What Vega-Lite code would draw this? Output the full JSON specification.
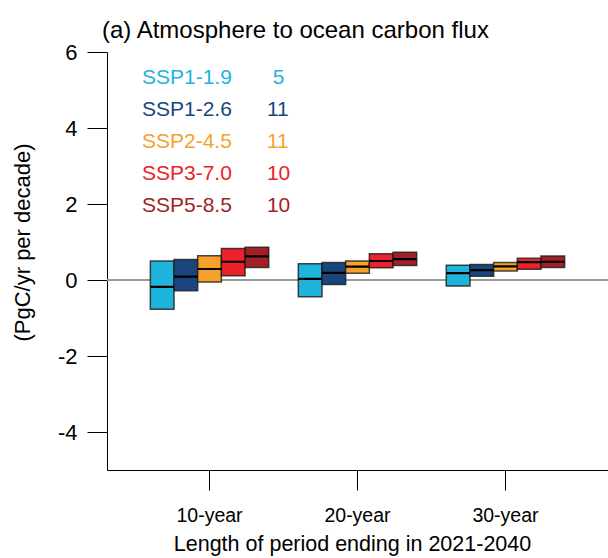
{
  "$schema": "https://vega.github.io/schema/vega-lite/v6.json",
  "autosize": {"type": "none"},
  "padding": {"left": 107, "top": 52, "right": 0, "bottom": 88},
  "width": 501,
  "height": 418,
  "background": "white",
  "title": {
    "text": "(a) Atmosphere to ocean carbon flux",
    "anchor": "start",
    "frame": "group",
    "fontSize": 24,
    "fontWeight": "normal",
    "font": "Liberation Sans",
    "color": "black",
    "baseline": "alphabetic",
    "offset": 14,
    "dx": -5,
    "dy": 35
  },
  "config": {
    "font": "Liberation Sans",
    "view": {"stroke": null},
    "axis": {"grid": false, "domainColor": "black", "tickColor": "black", "labelColor": "black", "titleColor": "black", "titleFontWeight": "normal", "domainWidth": 1, "tickWidth": 1}
  },
  "data": {
    "values": [
      {"period": "10-year", "scenario": "SSP1-1.9", "lo": -0.77, "med": -0.18, "hi": 0.50},
      {"period": "10-year", "scenario": "SSP1-2.6", "lo": -0.28, "med": 0.09, "hi": 0.54},
      {"period": "10-year", "scenario": "SSP2-4.5", "lo": -0.05, "med": 0.29, "hi": 0.64},
      {"period": "10-year", "scenario": "SSP3-7.0", "lo": 0.11, "med": 0.48, "hi": 0.83},
      {"period": "10-year", "scenario": "SSP5-8.5", "lo": 0.33, "med": 0.62, "hi": 0.86},
      {"period": "20-year", "scenario": "SSP1-1.9", "lo": -0.44, "med": 0.03, "hi": 0.43},
      {"period": "20-year", "scenario": "SSP1-2.6", "lo": -0.12, "med": 0.19, "hi": 0.46},
      {"period": "20-year", "scenario": "SSP2-4.5", "lo": 0.18, "med": 0.35, "hi": 0.50},
      {"period": "20-year", "scenario": "SSP3-7.0", "lo": 0.32, "med": 0.50, "hi": 0.69},
      {"period": "20-year", "scenario": "SSP5-8.5", "lo": 0.38, "med": 0.55, "hi": 0.73},
      {"period": "30-year", "scenario": "SSP1-1.9", "lo": -0.16, "med": 0.18, "hi": 0.39},
      {"period": "30-year", "scenario": "SSP1-2.6", "lo": 0.10, "med": 0.26, "hi": 0.41},
      {"period": "30-year", "scenario": "SSP2-4.5", "lo": 0.24, "med": 0.36, "hi": 0.46},
      {"period": "30-year", "scenario": "SSP3-7.0", "lo": 0.28, "med": 0.47, "hi": 0.57},
      {"period": "30-year", "scenario": "SSP5-8.5", "lo": 0.33, "med": 0.48, "hi": 0.63}
    ]
  },
  "encoding": {
    "x": {
      "field": "period",
      "type": "nominal",
      "scale": {"paddingInner": 0.2, "paddingOuter": 0.293},
      "axis": {
        "title": "Length of period ending in 2021-2040",
        "labelAngle": 0,
        "labelFontSize": 19.5,
        "labelBaseline": "alphabetic",
        "labelPadding": 31,
        "tickSize": 20,
        "titleFontSize": 21.5,
        "titleBaseline": "alphabetic",
        "titleX": 245,
        "titleY": 80
      }
    },
    "y": {
      "type": "quantitative",
      "scale": {"domain": [-5, 6], "nice": false, "zero": false}
    }
  },
  "layer": [
    {
      "mark": {"type": "rule", "color": "#9a9a9a", "strokeWidth": 1.5},
      "encoding": {"y": {"datum": 0, "type": "quantitative"}, "x": null}
    },
    {
      "mark": {"type": "bar", "stroke": "#1a1a1a", "strokeWidth": 1.5, "strokeOpacity": 0.8, "opacity": 1},
      "encoding": {
        "xOffset": {"field": "scenario", "type": "nominal", "scale": {"paddingInner": 0, "paddingOuter": 0}},
        "y": {
          "field": "lo",
          "type": "quantitative",
          "axis": {
            "values": [-4, -2, 0, 2, 4, 6],
            "labelExpr": "toString(datum.value)",
            "title": "(PgC/yr per decade)",
            "labelFontSize": 22,
            "labelPadding": 10,
            "tickSize": 20,
            "titleFontSize": 22,
            "titleAngle": -90,
            "titleX": -85,
            "titleY": 190,
            "titleAlign": "center",
            "titleBaseline": "middle"
          }
        },
        "y2": {"field": "hi"},
        "color": {
          "field": "scenario",
          "type": "nominal",
          "scale": {
            "domain": ["SSP1-1.9", "SSP1-2.6", "SSP2-4.5", "SSP3-7.0", "SSP5-8.5"],
            "range": ["#1eb4dc", "#1b467d", "#f7a12b", "#ec2129", "#a21f26"]
          },
          "legend": {
            "title": null,
            "orient": "none",
            "legendX": 14,
            "legendY": 15,
            "padding": 0,
            "symbolSize": 0,
            "symbolOpacity": 0,
            "symbolStrokeWidth": 0,
            "labelOffset": 0,
            "labelFontSize": 21,
            "rowPadding": 10,
            "labelLimit": 400,
            "labelColor": {"expr": "scale('color', datum.value)"},
            "labelExpr": "datum.label + (datum.label == 'SSP1-1.9' ? '\u00a0\u00a0\u00a0\u00a0\u00a0\u00a0\u00a05' : datum.label == 'SSP1-2.6' ? '\u00a0\u00a0\u00a0\u00a0\u00a0\u00a011' : datum.label == 'SSP2-4.5' ? '\u00a0\u00a0\u00a0\u00a0\u00a0\u00a011' : '\u00a0\u00a0\u00a0\u00a0\u00a0\u00a010')"
          }
        }
      }
    },
    {
      "mark": {"type": "rect", "fill": null, "stroke": "#000000", "strokeWidth": 2.2},
      "encoding": {
        "xOffset": {"field": "scenario", "type": "nominal"},
        "y": {"field": "med", "type": "quantitative"},
        "y2": {"field": "med"}
      }
    }
  ]
}
